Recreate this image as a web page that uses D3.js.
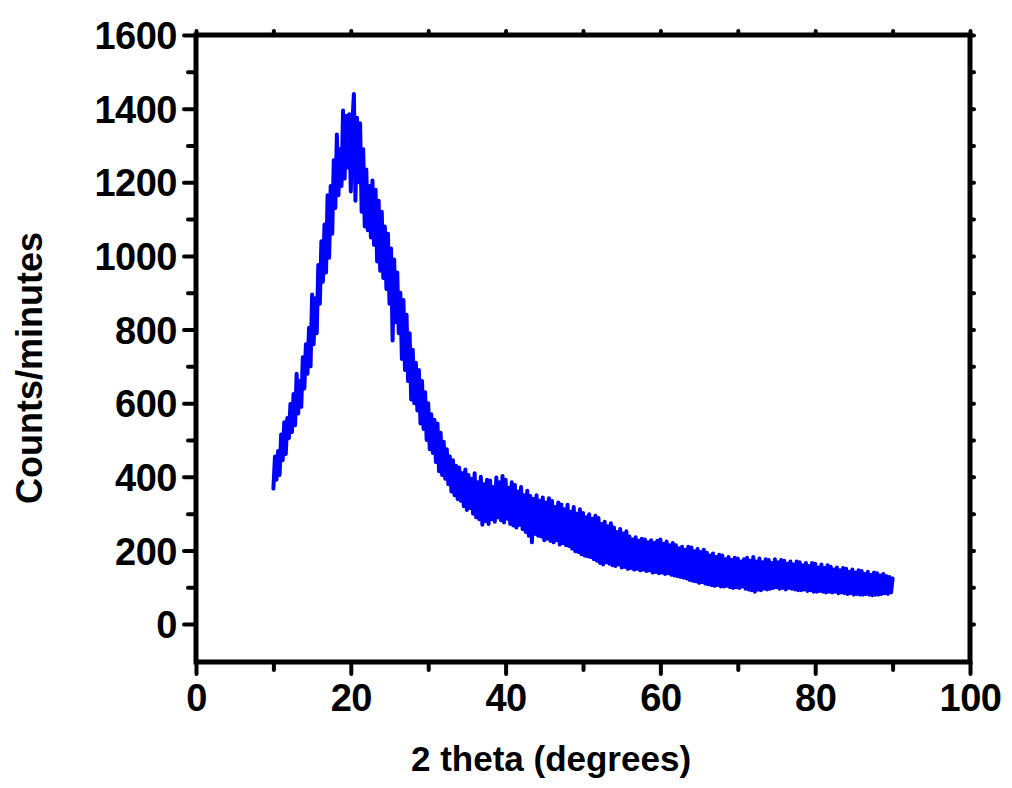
<!DOCTYPE html>
<html>
<head>
<meta charset="utf-8">
<script src="https://cdn.jsdelivr.net/npm/d3@7"></script>
<style>
    body { margin: 0; background: #fff; }
    svg { display: block; }
    .tick-label { font-family: "Liberation Sans", Arial, sans-serif; font-weight: bold; font-size: 38px; fill: #000; letter-spacing: -0.5px; }
    .axis-title { font-family: "Liberation Sans", Arial, sans-serif; font-weight: bold; fill: #000; }
</style>
</head>
<body>
<svg id="chart" width="1012" height="788"></svg>
<script>
(function (d3) {
    'use strict';

    // scan start / step (degrees 2-theta)
    var START_ANGLE = 10,
        STEP_ANGLE  = 0.2;

    // counts per minute, one row = 2 degrees
    var counts = [
        368, 455, 392, 470, 405, 515, 445, 548, 462, 560,
        505, 598, 522, 625, 540, 680, 572, 660, 590, 725,
        640, 760, 680, 805, 700, 895, 760, 885, 790, 975,
        870, 1040, 930, 1085, 955, 1165, 995, 1190, 1060, 1260,
        1130, 1330, 1165, 1290, 1190, 1395, 1210, 1380, 1240, 1385,
        1175, 1360, 1440, 1150, 1375, 1200, 1360, 1120, 1290, 1080,
        1235, 1070, 1190, 1050, 1205, 1030, 1180, 985, 1150, 960,
        1120, 940, 1080, 910, 1060, 870, 1020, 770, 990, 820,
        955, 790, 900, 720, 880, 690, 840, 660, 790, 610,
        745, 600, 710, 580, 690, 545, 660, 530, 630, 500,
        600, 475, 570, 465, 555, 440, 545, 415, 520, 405,
        495, 395, 475, 380, 455, 360, 445, 350, 430, 340,
        425, 335, 410, 320, 420, 310, 405, 315, 395, 300,
        410, 290, 385, 285, 400, 270, 380, 280, 392, 272,
        390, 285, 372, 278, 398, 290, 385, 282, 402, 276,
        392, 286, 370, 272, 385, 268, 378, 262, 360, 270,
        372, 258, 350, 250, 362, 240, 348, 222, 340, 245,
        350, 240, 335, 238, 344, 228, 330, 232, 342, 226,
        334, 222, 318, 228, 330, 216, 325, 220, 312, 214,
        324, 212, 305, 205, 318, 198, 300, 196, 312, 190,
        302, 186, 290, 184, 298, 182, 286, 176, 294, 172,
        288, 166, 272, 162, 278, 168, 266, 164, 274, 160,
        262, 158, 250, 162, 258, 154, 246, 156, 252, 150,
        238, 152, 230, 148, 236, 150, 226, 146, 232, 148,
        230, 144, 222, 146, 228, 140, 220, 142, 226, 138,
        230, 140, 218, 136, 224, 138, 214, 134, 220, 132,
        214, 130, 206, 128, 210, 126, 202, 124, 210, 120,
        208, 118, 198, 116, 204, 112, 196, 114, 202, 110,
        194, 108, 186, 106, 192, 104, 182, 106, 188, 102,
        186, 102, 176, 104, 182, 100, 174, 98, 180, 100,
        178, 98, 170, 102, 176, 96, 180, 94, 172, 92,
        182, 88, 170, 94, 178, 92, 168, 96, 176, 94,
        174, 96, 166, 98, 176, 100, 168, 96, 174, 98,
        172, 94, 164, 98, 170, 96, 162, 94, 170, 92,
        168, 92, 160, 94, 166, 90, 158, 92, 166, 88,
        164, 88, 154, 90, 162, 88, 152, 86, 160, 88,
        156, 86, 148, 88, 154, 84, 146, 86, 152, 84,
        150, 82, 142, 84, 148, 80, 140, 82, 146, 80,
        144, 80, 136, 82, 142, 80, 134, 78, 140, 80,
        138, 80, 132, 82, 136, 84, 130, 82, 128, 86,
        124
    ];

    var xTicks = [0, 20, 40, 60, 80, 100],
        xMinorTicks = [10, 30, 50, 70, 90],
        yTicks = [0, 200, 400, 600, 800, 1000, 1200, 1400, 1600],
        yMinorTicks = [100, 300, 500, 700, 900, 1100, 1300, 1500];

    var LEFT = 196, RIGHT = 970, TOP = 35, BOTTOM = 662;

    var svg = d3.select('#chart');

    var x = d3.scaleLinear().domain([0, 100]).range([LEFT, RIGHT]);
    var y = d3.scaleLinear().domain([-103, 1600]).range([BOTTOM, TOP]);

    var points = counts.map(function (c, i) {
        return { angle: START_ANGLE + i * STEP_ANGLE, count: c };
    });

    // data line
    var line = d3.line()
        .x(function (d) { return x(d.angle); })
        .y(function (d) { return y(d.count); });

    svg.append('path')
        .datum(points)
        .attr('d', line)
        .attr('fill', 'none')
        .attr('stroke', '#0000ff')
        .attr('stroke-width', 4)
        .attr('stroke-linejoin', 'round')
        .attr('stroke-linecap', 'round');

    // axes: bottom/left with outward ticks, top/right only tiny mirror ticks
    function styleAxis(g) {
        g.select('.domain').remove();
        g.selectAll('.tick line')
            .attr('stroke', '#000')
            .attr('stroke-width', 4)
            .attr('stroke-linecap', 'round');
        g.selectAll('.tick text').attr('class', 'tick-label');
    }

    svg.append('g')
        .attr('transform', 'translate(0,' + BOTTOM + ')')
        .call(d3.axisBottom(x).tickValues(xMinorTicks).tickSize(8).tickFormat(''))
        .call(styleAxis);
    svg.append('g')
        .attr('transform', 'translate(0,' + BOTTOM + ')')
        .call(d3.axisBottom(x).tickValues(xTicks).tickSize(12).tickPadding(8).tickFormat(d3.format('d')))
        .call(styleAxis)
        .selectAll('text')
        .attr('dy', '0.75em')
        .attr('y', 20);

    svg.append('g')
        .attr('transform', 'translate(' + LEFT + ',0)')
        .call(d3.axisLeft(y).tickValues(yMinorTicks).tickSize(8).tickFormat(''))
        .call(styleAxis);
    svg.append('g')
        .attr('transform', 'translate(' + LEFT + ',0)')
        .call(d3.axisLeft(y).tickValues(yTicks).tickSize(12).tickPadding(7).tickFormat(d3.format('d')))
        .call(styleAxis)
        .selectAll('text')
        .attr('dy', '0.36em');

    svg.append('g')
        .attr('transform', 'translate(0,' + TOP + ')')
        .call(d3.axisTop(x).tickValues(xTicks.concat(xMinorTicks)).tickSize(4).tickFormat(''))
        .call(styleAxis);
    svg.append('g')
        .attr('transform', 'translate(' + RIGHT + ',0)')
        .call(d3.axisRight(y).tickValues(yTicks.concat(yMinorTicks)).tickSize(4).tickFormat(''))
        .call(styleAxis);

    // frame
    svg.append('rect')
        .attr('x', LEFT)
        .attr('y', TOP)
        .attr('width', RIGHT - LEFT)
        .attr('height', BOTTOM - TOP)
        .attr('fill', 'none')
        .attr('stroke', '#000')
        .attr('stroke-width', 5);

    // titles
    svg.append('text')
        .attr('class', 'axis-title')
        .attr('x', 551)
        .attr('y', 771)
        .attr('text-anchor', 'middle')
        .style('font-size', '35px')
        .text('2 theta (degrees)');

    svg.append('text')
        .attr('class', 'axis-title')
        .attr('transform', 'translate(42,368) rotate(-90)')
        .attr('text-anchor', 'middle')
        .style('font-size', '36px')
        .text('Counts/minutes');

})(d3);
</script>
</body>
</html>
